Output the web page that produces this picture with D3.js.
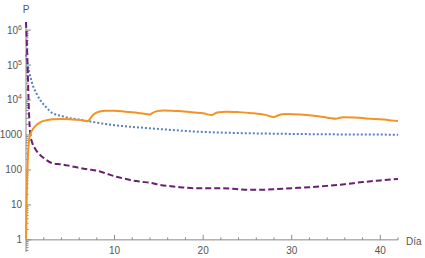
<!DOCTYPE html>
<html>
<head>
<meta charset="utf-8">
<script src="https://cdn.jsdelivr.net/npm/d3@7"></script>
<style>
  body { margin: 0; background: #fff; }
  text { font-family: "Liberation Sans", Arial, sans-serif; }
</style>
</head>
<body>
<svg id="chart" width="425" height="258"></svg>
<script>
// values (day, value)
const orangeDays = [0, 0.1, 0.2, 0.35, 0.5, 0.8, 1.2, 1.6, 2.2, 3, 4, 5, 6, 7, 7.3, 7.7, 8.3, 9, 10, 11, 12, 13, 14, 14.3, 14.8, 15.5, 16.5, 17.5, 19, 20, 21, 21.3, 21.8, 22.6, 24, 25.5, 27, 28, 28.3, 28.9, 29.6, 31, 33, 35, 35.3, 35.9, 37, 39, 41, 42];
const orangeVals = [1, 30, 200, 700, 1050, 1500, 1950, 2300, 2600, 2800, 2850, 2800, 2700, 2450, 3100, 4000, 4700, 4950, 4900, 4700, 4450, 4150, 3850, 4300, 4800, 5000, 4950, 4750, 4400, 4150, 3700, 4100, 4450, 4650, 4500, 4200, 3750, 3250, 3500, 3900, 4000, 3850, 3450, 2900, 3050, 3200, 3150, 2900, 2650, 2500];

const blueDays = [0, 0.2, 0.5, 0.8, 1.2, 1.6, 2.2, 3, 4, 5, 6, 7, 8, 9, 10, 12, 14, 16, 18, 20, 23, 26, 30, 35, 42];
const blueVals = [200000, 100000, 45000, 25000, 15000, 10000, 6500, 4200, 3500, 3000, 2750, 2500, 2250, 2050, 1900, 1700, 1550, 1420, 1300, 1220, 1150, 1110, 1070, 1040, 1020];

const purpleDays = [0, 0.1, 0.2, 0.3, 0.4, 0.5, 0.7, 1, 1.4, 2, 3, 4, 5, 6, 7, 8, 9, 10, 11, 12, 13, 14, 15, 16, 17, 18, 19, 20, 22, 24, 25, 26, 28, 30, 32, 34, 36, 38, 40, 42];
const purpleVals = [1700000, 400000, 60000, 8000, 2000, 1000, 600, 420, 300, 220, 155, 145, 130, 115, 104, 95, 80, 66, 57, 50, 46, 43, 38, 35, 33, 31, 30, 30, 30, 28, 27, 27, 28, 30, 32, 35, 39, 45, 50, 55];

const xTicks = [10, 20, 30, 40];
const yTicks = [1, 10, 100, 1000, 1e4, 1e5, 1e6];

const svg = d3.select('#chart');
const x = d3.scaleLinear().domain([0, 42]).range([26, 398]);
const y = d3.scaleLog().domain([0.45, 1.7e6]).range([252, 22]);
const axisColor = '#888';
const labelColor = '#555';

// y axis line + ticks (inside, to the right)
svg.append('line')
    .attr('x1', x(0)).attr('x2', x(0))
    .attr('y1', y(0.45)).attr('y2', y(1.7e6))
    .attr('stroke', axisColor);
const minorY = [];
for (let e = -1; e <= 6; e++) {
    for (let m = 1; m <= 9; m++) {
        const v = m * Math.pow(10, e);
        if (v >= 0.45 && v <= 1.7e6) minorY.push(v);
    }
}
svg.selectAll('.ytick').data(minorY).enter().append('line')
    .attr('x1', x(0))
    .attr('x2', d => x(0) + (yTicks.includes(d) ? 5 : 2.5))
    .attr('y1', d => y(d)).attr('y2', d => y(d))
    .attr('stroke', axisColor);

// x axis at y = 1
const xAxisY = y(1);
svg.append('line')
    .attr('x1', x(0)).attr('x2', x(42))
    .attr('y1', xAxisY).attr('y2', xAxisY)
    .attr('stroke', axisColor);
svg.selectAll('.xtick').data(d3.range(2, 43, 2)).enter().append('line')
    .attr('x1', d => x(d)).attr('x2', d => x(d))
    .attr('y1', xAxisY)
    .attr('y2', d => xAxisY - (d % 10 === 0 ? 5 : 2.5))
    .attr('stroke', axisColor);

// tick labels
svg.selectAll('.xlab').data(xTicks).enter().append('text')
    .attr('x', d => x(d)).attr('y', xAxisY + 14)
    .attr('text-anchor', 'middle')
    .attr('font-size', 10).attr('fill', labelColor)
    .text(d => d);

yTicks.forEach(v => {
    const t = svg.append('text')
        .attr('x', 22).attr('y', y(v) + 3.5)
        .attr('text-anchor', 'end')
        .attr('font-size', 10).attr('fill', labelColor);
    if (v <= 1000) {
        t.text(v);
    } else {
        t.append('tspan').text('10');
        t.append('tspan').attr('dy', -4).attr('font-size', 7).text(Math.round(Math.log10(v)));
    }
});

svg.append('text').attr('x', 26).attr('y', 13)
    .attr('text-anchor', 'middle').attr('font-size', 10).attr('fill', labelColor).text('P');
svg.append('text').attr('x', 406).attr('y', 245)
    .attr('font-size', 10).attr('fill', labelColor).text('Día');

// curves
const line = d3.line()
    .x(d => x(d[0]))
    .y(d => y(d[1]))
    .curve(d3.curveMonotoneX);

const series = [
    { days: blueDays, vals: blueVals, color: '#5b7fc0', dash: '2,2' },
    { days: purpleDays, vals: purpleVals, color: '#6a1f74', dash: '6,3' },
    { days: orangeDays, vals: orangeVals, color: '#f39323', dash: null }
];

svg.selectAll('.series').data(series).enter().append('path')
    .attr('d', s => line(s.days.map((d, i) => [d, s.vals[i]])))
    .attr('fill', 'none')
    .attr('stroke', s => s.color)
    .attr('stroke-width', 2)
    .attr('stroke-dasharray', s => s.dash);
</script>
</body>
</html>
